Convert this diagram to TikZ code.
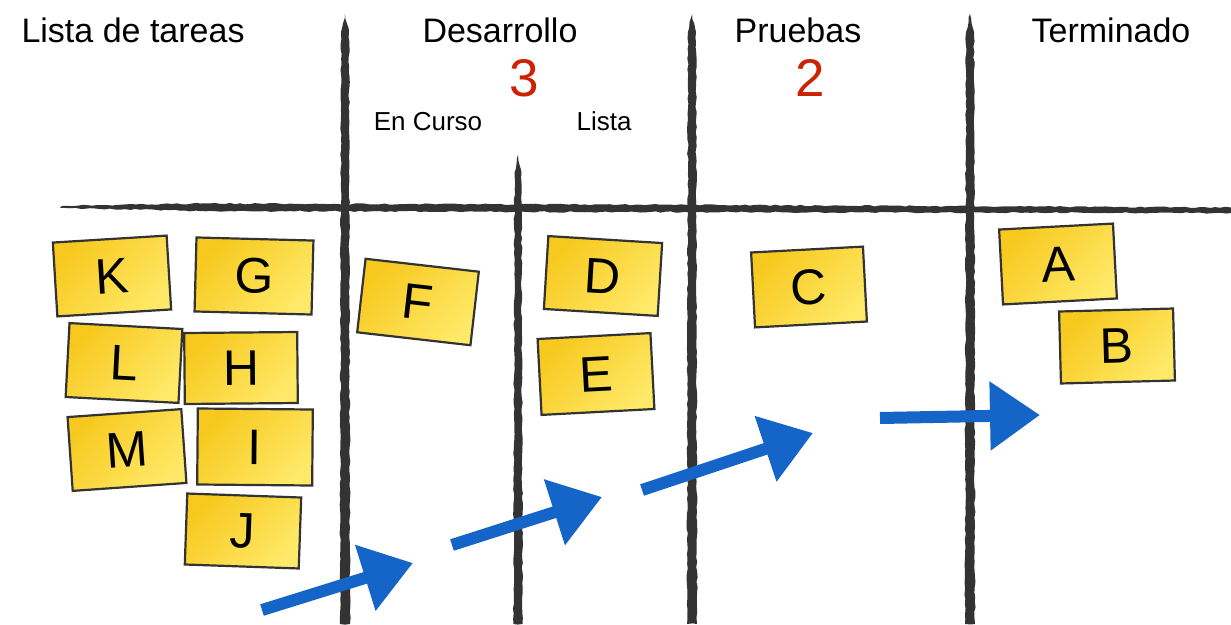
\documentclass[tikz,border=0pt]{standalone}
\usepackage{fontspec}
\setmainfont{Liberation Sans}
\usetikzlibrary{arrows.meta,decorations.pathmorphing}
\definecolor{ink}{HTML}{333333}
\definecolor{notel}{HTML}{F7C91E}
\definecolor{noter}{HTML}{FFE968}
\definecolor{wip}{HTML}{CC2200}
\definecolor{flow}{HTML}{1565C8}

\begin{document}
\begin{tikzpicture}[x=1pt, y=-1pt,
  sticky/.style={draw=ink, line width=2.2pt, left color=notel, right color=noter,
                 shading angle=45,
                 minimum width=114pt, minimum height=74pt, inner sep=0pt,
                 font=\fontsize{50}{50}\selectfont},
  colhead/.style={anchor=base, font=\fontsize{34}{34}\selectfont},
  subhead/.style={anchor=base, font=\fontsize{26}{26}\selectfont},
  wiplimit/.style={anchor=base, text=wip, font=\fontsize{53}{53}\selectfont},
  board/.style={fill=ink, decorate,
                decoration={random steps, segment length=5pt, amplitude=0.7pt}},
  flowarrow/.style={draw=flow, line width=12pt, -{Triangle[length=50pt, width=66pt]}}]
\useasboundingbox[fill=white] (0,0) rectangle (1231,624);
\pgfmathsetseed{7}
% board lines
\fill[board] (62,206) -- (200,203.5) -- (600,204.5) -- (1231,207.5) -- (1231,213)
  -- (600,212) -- (200,211) -- (62,208) -- cycle;
\foreach \x/\t/\w in {345/14/5, 692/14/5, 970/14/5, 518/155/4.5}
  \fill[board] (\x,\t) -- (\x+\w-1,\t+18) -- (\x+\w,624) -- (\x-\w,624)
    -- (\x-\w+1,\t+18) -- cycle;
% headers
\node[colhead, anchor=base west] (todo) at (18,42) {Lista de tareas};
\node[colhead] (dev) at (500,42) {Desarrollo};
\node[colhead] (test) at (798,42) {Pruebas};
\node[colhead] (done) at (1111,42) {Terminado};
\node[wiplimit] (devlim) at (524,96) {3};
\node[wiplimit] (testlim) at (810,96) {2};
\node[subhead] (doing) at (428,130) {En Curso};
\node[subhead] (ready) at (604,130) {Lista};
% sticky notes
\node[sticky, rotate=3.5] (K) at (112,276) {K};
\node[sticky, rotate=-1.5, minimum width=117pt] (G) at (254,276) {G};
\node[sticky, rotate=-3, minimum width=113pt] (L) at (124,363) {L};
\node[sticky, rotate=0.5, minimum width=113pt, minimum height=71pt] (H) at (241,368) {H};
\node[sticky, rotate=4] (M) at (127,450) {M};
\node[sticky, rotate=-0.5, minimum width=115pt, minimum height=76pt] (I) at (255,447) {I};
\node[sticky, rotate=-2, minimum height=71pt] (J) at (243,531) {J};
\node[sticky, rotate=-6.5] (F) at (418,302) {F};
\node[sticky, rotate=-3.5, minimum height=73pt] (D) at (603,276) {D};
\node[sticky, rotate=3, minimum width=113pt, minimum height=76pt] (E) at (596,374) {E};
\node[sticky, rotate=3, minimum width=112pt, minimum height=75pt] (C) at (809,287) {C};
\node[sticky, rotate=3, minimum height=75pt] (A) at (1058,264) {A};
\node[sticky, rotate=1.5, minimum height=72pt] (B) at (1117,346) {B};
% flow arrows
\coordinate (s1) at (262,610); \coordinate (t1) at (413,563);
\coordinate (s2) at (452,545); \coordinate (t2) at (602,497);
\coordinate (s3) at (642,490); \coordinate (t3) at (813,433);
\coordinate (s4) at (880,418); \coordinate (t4) at (1040,415);
\foreach \i in {1,...,4}
  \draw[flowarrow] (s\i) -- (t\i);
\end{tikzpicture}
\end{document}
